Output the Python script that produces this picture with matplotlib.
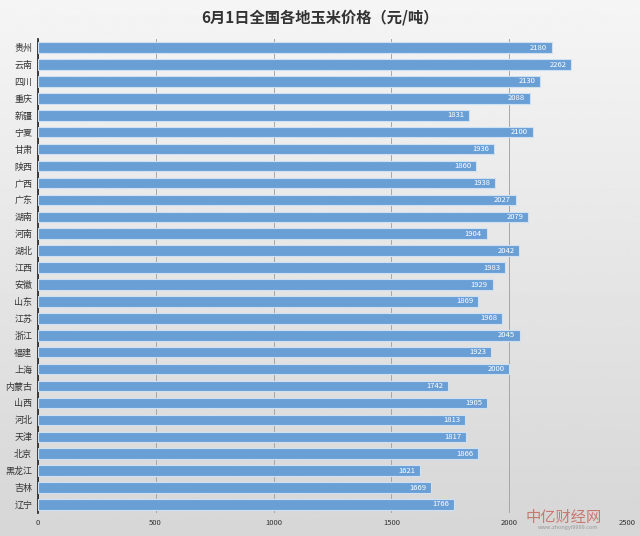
import matplotlib
matplotlib.use("Agg")
import matplotlib.pyplot as plt
import numpy as np

plt.rcParams['font.family'] = ['Noto Sans CJK SC', 'DejaVu Sans']

provinces = ["贵州", "云南", "四川", "重庆", "新疆", "宁夏", "甘肃", "陕西", "广西", "广东",
             "湖南", "河南", "湖北", "江西", "安徽", "山东", "江苏", "浙江", "福建", "上海",
             "内蒙古", "山西", "河北", "天津", "北京", "黑龙江", "吉林", "辽宁"]
prices = [2180, 2262, 2130, 2088, 1831, 2100, 1936, 1860, 1938, 2027,
          2079, 1904, 2042, 1983, 1929, 1869, 1968, 2045, 1923, 2000,
          1742, 1905, 1813, 1817, 1866, 1621, 1669, 1766]
xticks = [0, 500, 1000, 1500, 2000, 2500]

fig = plt.figure(figsize=(6.4, 5.36), dpi=100)

# background gradient, light at top and grey at bottom
bg = fig.add_axes([0, 0, 1, 1], zorder=-10)
grad = np.linspace(0.96, 0.84, 256).reshape(-1, 1)
bg.imshow(grad, aspect='auto', cmap='gray', vmin=0, vmax=1, extent=[0, 1, 0, 1])
bg.axis('off')

ax = fig.add_axes([0.059, 0.043, 0.921, 0.884])
ax.patch.set_alpha(0)
y = np.arange(len(provinces))
ax.barh(y, prices, height=0.62, color='#6a9fd6', edgecolor='#cfe0f2', linewidth=0.8, zorder=3)
for yi, v in zip(y, prices):
    ax.text(v - 20, yi, str(v), color='white', fontsize=5.5, ha='right', va='center', zorder=4)

ax.set_xlim(0, 2500)
ax.set_ylim(len(provinces) - 0.5, -0.5)
ax.set_yticks(y)
ax.set_yticklabels(provinces, fontsize=6.5, color='#333333')
ax.set_xticks(xticks)
ax.set_xticklabels([str(t) for t in xticks], fontsize=5.5, color='#333333')
ax.tick_params(length=0, pad=4)
ax.grid(axis='x', color='#a6a6a6', linewidth=0.7, zorder=0)
for s in ['top', 'right', 'bottom']:
    ax.spines[s].set_visible(False)
ax.spines['left'].set_color('#222222')
ax.spines['left'].set_linewidth(1.2)

fig.text(0.5, 0.968, "6月1日全国各地玉米价格（元/吨）", ha='center', va='center',
         fontsize=11, fontweight='bold', color='#333333')

fig.text(0.94, 0.035, "中亿财经网", ha='right', va='center', fontsize=11,
         color='#c0392b', alpha=0.6, style='italic')
fig.text(0.935, 0.015, "www.zhongyi9999.com", ha='right', va='center', fontsize=4,
         color='#999999')

fig.savefig("out.png", dpi=100)
